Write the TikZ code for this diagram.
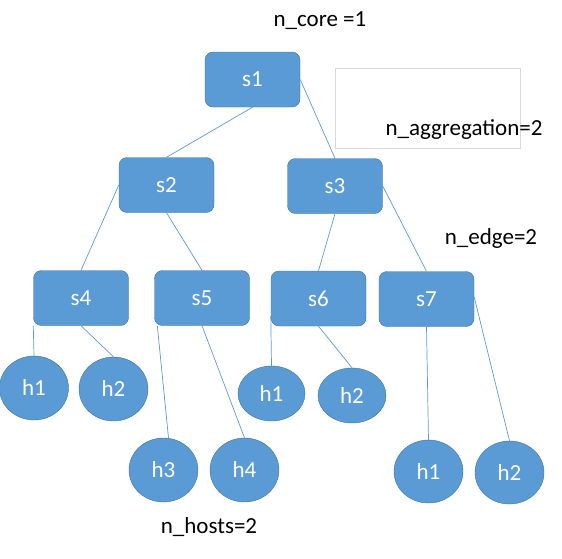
\documentclass[tikz,border=0pt]{standalone}
\usepackage{fontspec}
\setmainfont{Carlito}
\usepackage{xcolor}
\usepackage{tikz}
\usetikzlibrary{calc,shapes.geometric}

\definecolor{boxblue}{HTML}{5B9BD5}
\definecolor{boxedge}{HTML}{41719C}
\definecolor{framegray}{HTML}{D9D9D9}

\begin{document}
\begin{tikzpicture}[x=1pt, y=-1pt,
	every node/.style={font=\fontsize{23}{27}\selectfont},
	switch/.style={draw=boxedge, fill=boxblue, text=white, rounded corners=8pt,
		minimum width=95pt, minimum height=55pt, inner sep=0pt},
	host/.style={ellipse, draw=boxedge, fill=boxblue, text=white, inner sep=0pt,
		minimum width=69pt, minimum height=64pt},
	link/.style={draw=boxblue, line width=0.7pt}]
			\useasboundingbox (0,0) rectangle (562,558);
			% core and aggregation
			\node[switch] (s1) at (252.5,79.5) {s1};
			\node[switch] (s2) at (166.5,185) {s2};
			\node[switch] (s3) at (335,186) {s3};
			% edge
			\node[switch] (s4) at (81,298) {s4};
			\node[switch] (s5) at (202,298) {s5};
			\node[switch] (s6) at (318.5,298.5) {s6};
			\node[switch] (s7) at (426.5,299) {s7};
			% hosts
			\node[host] (h41) at (34,388) {h1};
			\node[host] (h42) at (113.5,389) {h2};
			\node[host] (h53) at (163.5,470) {h3};
			\node[host] (h54) at (244.5,470) {h4};
			\node[host, minimum width=67pt, minimum height=55pt] (h61) at (271.5,393.5) {h1};
			\node[host, minimum width=68pt, minimum height=55pt] (h62) at (352,395.5) {h2};
			\node[host, minimum height=63pt] (h71) at (428.5,471.5) {h1};
			\node[host, minimum height=63pt] (h72) at (509.5,472.5) {h2};

			\draw[link] (s1.south) -- (s2.north);
			\draw[link] (s1.east) -- (s3.north);
			\draw[link] (s2.west) -- (s4.north);
			\draw[link] (s2.south) -- (s5.north);
			\draw[link] (s3.south) -- (s6.north);
			\draw[link] (s3.east) -- (s7.north);
			\draw[link] (s4.south west) -- (h41.north);
			\draw[link] (s4.south) -- (h42.north);
			\draw[link] ([xshift=3pt]s5.south west) -- ([xshift=5pt]h53.north);
			\draw[link] (s5.south) -- (h54.north);
			\draw[link] ([yshift=10pt]s6.south west) -- (h61.north);
			\draw[link] (s6.south) -- (h62.north);
			\draw[link] (s7.south) -- (h71.north);
			\draw[link] ([yshift=2pt]s7.east) -- (h72.north);

			% counts
			\draw[framegray, line width=0.7pt] (335,68) rectangle (520,148);
			\node (ncore) at (320,21) {n\_core =1};
			\node (naggr) at (464,130) {n\_aggregation=2};
			\node (nedge) at (491,238) {n\_edge=2};
			\node (nhosts) at (209,527) {n\_hosts=2};
		\end{tikzpicture}
\end{document}
